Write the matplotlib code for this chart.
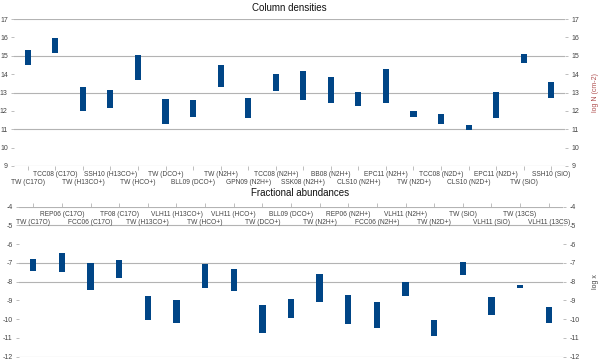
import matplotlib
matplotlib.use("Agg")
import matplotlib.pyplot as plt
import numpy as np

plt.rcParams["font.family"] = ["Liberation Sans", "DejaVu Sans"]
plt.rcParams["axes.unicode_minus"] = False

BAR = "#004586"
GRID = "#b3b3b3"
TXT = "#444444"
AXLBL = "#b05050"

# ── Column densities (log N, cm-2) ──────────────────────────────────────────
col_labels = [
    "TW (C17O)", "TCC08 (C17O)", "TW (H13CO+)", "SSH10 (H13CO+)", "TW (HCO+)",
    "TW (DCO+)", "BLL09 (DCO+)", "TW (N2H+)", "GPN09 (N2H+)", "TCC08 (N2H+)",
    "SSK08 (N2H+)", "BB08 (N2H+)", "CLS10 (N2H+)", "EPC11 (N2H+)", "TW (N2D+)",
    "TCC08 (N2D+)", "CLS10 (N2D+)", "EPC11 (N2D+)", "TW (SiO)", "SSH10 (SiO)",
]
col_low = [14.52, 15.17, 12.02, 12.13, 13.68, 11.31, 11.67, 13.30, 11.62, 13.10,
           12.60, 12.43, 12.27, 12.43, 11.67, 11.30, 10.97, 11.62, 14.63, 12.70]
col_high = [15.32, 15.97, 13.30, 13.14, 15.06, 12.65, 12.61, 14.50, 12.70, 14.01,
            14.17, 13.85, 13.03, 14.28, 12.00, 11.84, 11.24, 13.03, 15.10, 13.58]

# ── Fractional abundances (log x) ───────────────────────────────────────────
ab_labels = [
    "TW (C17O)", "REP06 (C17O)", "FCC06 (C17O)", "TF08 (C17O)", "TW (H13CO+)",
    "VLH11 (H13CO+)", "TW (HCO+)", "VLH11 (HCO+)", "TW (DCO+)", "BLL09 (DCO+)",
    "TW (N2H+)", "REP06 (N2H+)", "FCC06 (N2H+)", "VLH11 (N2H+)", "TW (N2D+)",
    "TW (SiO)", "VLH11 (SiO)", "TW (13CS)", "VLH11 (13CS)",
]
ab_high = [-6.79, -6.45, -7.01, -6.84, -8.74, -9.00, -7.03, -7.30, -9.22, -8.90,
           -7.58, -8.69, -9.07, -8.01, -10.03, -6.93, -8.81, -8.20, -9.34]
ab_low = [-7.41, -7.46, -8.42, -7.78, -10.03, -10.18, -8.33, -8.49, -10.76, -9.91,
          -9.07, -10.28, -10.46, -8.74, -10.90, -7.62, -9.80, -8.32, -10.18]

fig = plt.figure(figsize=(6, 3.6), dpi=100)
fig.patch.set_facecolor("white")

PX = 0.72  # one pixel in points at 100 dpi


def style_axes(ax):
    for s in ax.spines.values():
        s.set_visible(False)
    ax.tick_params(axis="y", which="both", left=True, right=True, labelleft=True,
                   labelright=True, length=2.5, width=0.6, color=GRID,
                   labelsize=5, labelcolor=TXT, pad=2)


# ── Top panel ───────────────────────────────────────────────────────────────
ax1 = fig.add_axes([14 / 600, 1 - 166 / 360, 551 / 600, 147 / 360])
x1 = np.arange(len(col_labels))
ax1.bar(x1, np.array(col_high) - np.array(col_low), bottom=col_low,
        width=0.22, color=BAR, zorder=3)
ax1.set_xlim(-0.5, len(col_labels) - 0.5)
ax1.set_ylim(9, 17)
ax1.set_yticks(range(9, 18))
for v in (9, 11, 13, 15, 17):
    ax1.axhline(v, color=GRID, lw=0.8, zorder=1)
style_axes(ax1)
ax1.set_xticks(x1)
ax1.set_xticklabels([])
ax1.tick_params(axis="x", length=3, width=0.6, color=GRID, direction="out")
for i, lab in enumerate(col_labels):
    off = -16 if i % 2 == 0 else -8
    ax1.annotate(lab, xy=(i, 0), xycoords=ax1.get_xaxis_transform(),
                 xytext=(0, off * PX), textcoords="offset points",
                 ha="center", va="center", fontsize=4.8, color=TXT)
ax1.set_title("Column densities", fontsize=7, color="#111111", pad=6)
ax1.yaxis.set_label_position("right")
ax1.set_ylabel("log N (cm-2)", fontsize=5, color=AXLBL, labelpad=9)

# ── Bottom panel ────────────────────────────────────────────────────────────
ax2 = fig.add_axes([19 / 600, 1 - 356.7 / 360, 544 / 600, 150 / 360])
x2 = np.arange(len(ab_labels))
ax2.bar(x2, np.array(ab_high) - np.array(ab_low), bottom=ab_low,
        width=0.22, color=BAR, zorder=3)
ax2.set_xlim(-0.5, len(ab_labels) - 0.5)
ax2.set_ylim(-12, -4)
ax2.set_yticks(range(-12, -3))
for v in (-4, -5, -7, -8, -12):
    ax2.axhline(v, color=GRID, lw=0.8, zorder=1)
style_axes(ax2)
ax2.set_xticks(x2)
ax2.set_xticklabels([])
ax2.tick_params(axis="x", bottom=False, top=True, length=3, width=0.6,
                color=GRID, direction="out")
for i, lab in enumerate(ab_labels):
    off = -16 if i % 2 == 0 else -8
    ax2.annotate(lab, xy=(i, 1), xycoords=ax2.get_xaxis_transform(),
                 xytext=(0, off * PX), textcoords="offset points",
                 ha="center", va="center", fontsize=4.8, color=TXT)
fig.text(0.5, 1 - 193 / 360, "Fractional abundances", ha="center", va="center",
         fontsize=7, color="#111111")
ax2.yaxis.set_label_position("right")
ax2.set_ylabel("log x", fontsize=5, color=TXT, labelpad=9)

fig.savefig("out.png", dpi=100, facecolor="white")
